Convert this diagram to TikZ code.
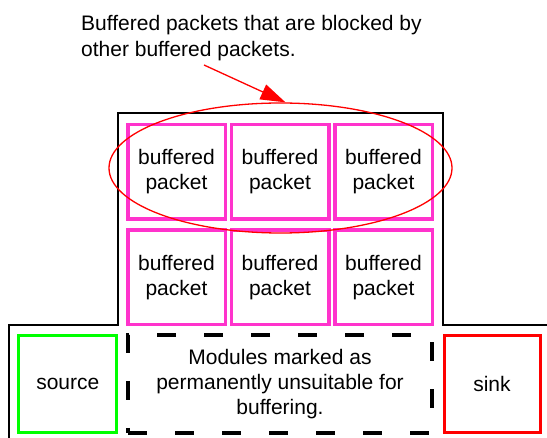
\documentclass[tikz,border=0pt]{standalone}
\usepackage{fontspec}
\setmainfont{Liberation Sans}
\usepackage{xcolor}
\usepackage{tikz}
\usetikzlibrary{shapes.geometric,arrows.meta}

\definecolor{packetpink}{RGB}{255,51,204}
\definecolor{sourcegreen}{RGB}{0,255,0}

\begin{document}
\begin{tikzpicture}[
        x=1pt, y=-1pt,
        node distance=103.5pt,
        every node/.style={font=\fontsize{21}{25}\selectfont, align=center, inner sep=0pt},
        packetnode/.style={rectangle, draw=packetpink, line width=3.5pt, minimum width=97.5pt, minimum height=94.5pt},
        sourcenode/.style={rectangle, draw=sourcegreen, line width=3pt, minimum width=98pt, minimum height=96.7pt},
        sinknode/.style={rectangle, draw=red, line width=3pt, minimum width=96pt, minimum height=97.7pt},
        modulenode/.style={rectangle, draw=black, line width=4pt, dash pattern=on 19pt off 28pt, minimum width=304pt, minimum height=98pt},
        blockednode/.style={ellipse, draw=red, line width=1.3pt, minimum width=343pt, minimum height=130pt},
        notenode/.style={align=left, anchor=north west, font=\fontsize{21}{26}\selectfont},
        pointerline/.style={red, line width=1.3pt, -{Triangle[length=25pt, width=16pt]}},
    ]
    \useasboundingbox (0,0) rectangle (547,438);
    %Outline
    \draw[line width=1.5pt] (9,438) -- (9,325) -- (118,325) -- (118,113) -- (443,113) -- (443,325) -- (547,325);
    %Nodes
    \node[packetnode]  (p11) at (176.5,172) {buffered\\packet};
    \node[packetnode]  (p12)  [right of= p11] {buffered\\packet};
    \node[packetnode]  (p13)  [right of= p12] {buffered\\packet};
    \node[packetnode]  (p21)  [below of= p11, yshift=-2pt] {buffered\\packet};
    \node[packetnode]  (p22)  [right of= p21] {buffered\\packet};
    \node[packetnode]  (p23)  [right of= p22] {buffered\\packet};
    \node[modulenode]  (modnode) at (280,384) {Modules marked as\\permanently unsuitable for\\buffering.};
    \node[sourcenode]  (srcnode)  [left of= modnode, xshift=-108.7pt] {source};
    \node[sinknode]  (snknode)  [right of= modnode, xshift=108.5pt] {sink};
    \node[blockednode]  (blockednode) at (280.5,168) {};
    \node[notenode]  (notenode) at (81,15) {Buffered packets that are blocked by\\other buffered packets.};
    \coordinate (notetail) at (204,65);
    %Lines
    \draw[pointerline] (notetail) -- ([xshift=5pt]blockednode.north);
\end{tikzpicture}
\end{document}
